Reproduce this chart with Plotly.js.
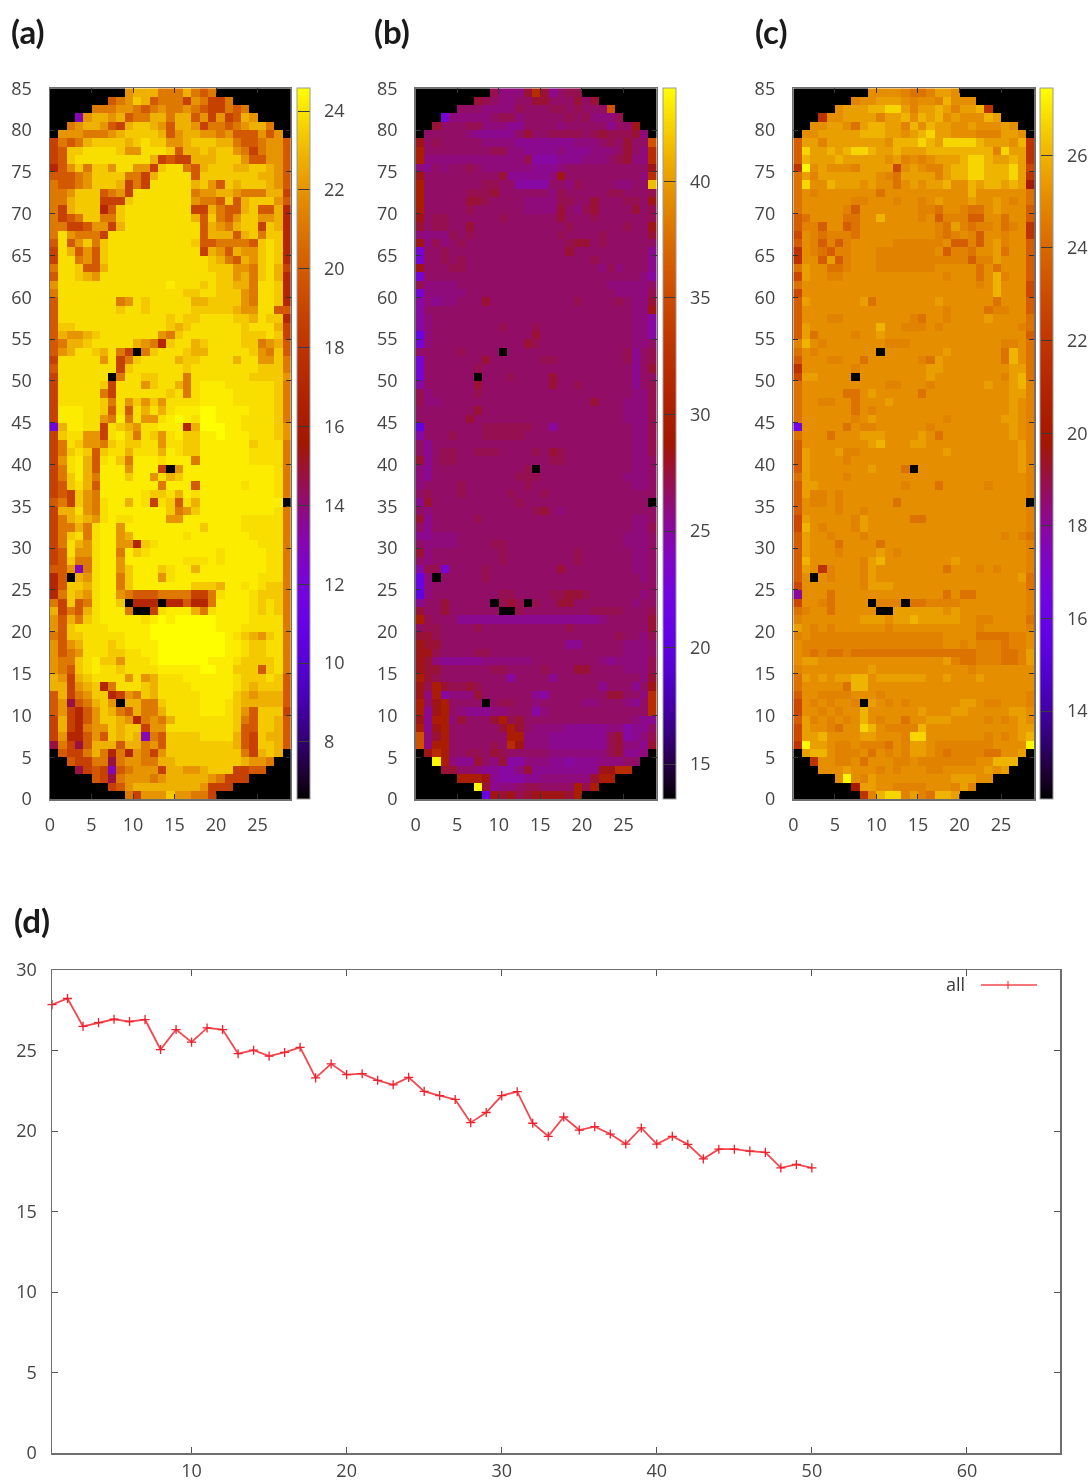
<!DOCTYPE html>
<html><head><meta charset="utf-8">
<script src="https://cdn.plot.ly/plotly-3.0.1.min.js"></script>
<style>html,body{margin:0;padding:0;background:#fff}#chart{width:1092px;height:1483px;filter:blur(0.6px)}</style>
</head><body><div id="chart"></div>
<script>
// Cell values: one character per cell, top row (y=84) first.
const levelsA = {'.':6.55,b:11.8,p:13,m:14.7,'0':17,'1':18.7,'2':19.9,'3':21.1,'4':22,'5':22.8,'6':23.4,'7':23.9,'8':24.2,'9':24.55};
const rowsA = [
"..... ....4 55533 35323 ..... ....",
"..... ..234 65233 31431 13... ....",
"..... 33344 32343 34321 1323. ....",
"...p4 55452 33553 55241 41254 ....",
"..345 54215 66542 55413 32345 53..",
".4443 33456 66652 45544 34222 424.",
"13235 66665 67664 45666 55322 3442",
"12667 77764 47776 25565 66431 3442",
"12677 77777 77512 11555 66642 2442",
"02463 66477 44167 73256 66556 6542",
"22234 66663 31577 77266 66666 5542",
"32234 66651 31777 77564 26566 6542",
"33466 62341 77777 77344 55433 3551",
"33566 61116 77777 77433 26256 6642",
"31566 60267 77777 77115 32256 2250",
"31236 63367 77777 77526 32466 4450",
"33112 44157 77777 77725 43566 1650",
"37433 31777 77777 77725 55256 3660",
"27246 36777 77777 77622 33332 6760",
"17524 26777 77777 77715 42544 6760",
"17734 26777 77777 77776 53254 6760",
"37762 25777 77777 77776 66443 6751",
"27765 47777 77777 77777 66453 6750",
"47777 77777 77778 77767 66553 7760",
"37777 77777 77777 76677 66643 7760",
"27777 77734 76777 77556 66643 7760",
"27777 77767 76777 77666 66544 7722",
"27777 77777 77776 76677 77665 7660",
"26677 77777 77776 56777 77767 7751",
"25445 67777 77743 67777 77766 6761",
"23556 77777 54306 77567 77766 3452",
"24577 65731 .3677 76557 77776 4362",
"17777 74713 67777 56677 77577 4463",
"27777 77716 77777 76777 77777 6663",
"17777 77.37 76677 73777 77776 6664",
"17777 76177 74677 53788 87777 7763",
"17777 73177 77776 73788 88777 7763",
"17777 76374 64647 77788 88777 7763",
"18887 76272 75757 88899 88887 7763",
"18887 74383 74478 98799 88877 7763",
"b5887 71765 47788 80599 98877 7764",
"16774 41786 37647 86688 98887 7764",
"13764 43676 67747 76688 88886 7773",
"13676 26775 77758 76688 88887 7773",
"14785 27863 88878 88388 88887 7773",
"13785 28884 8881. 48888 88888 8873",
"13685 38886 88475 68888 88888 8873",
"12675 28888 88838 88288 88878 8873",
"12164 38888 87667 58788 88888 8873",
"23164 37885 87176 27588 88888 888.",
"15574 37888 88886 34688 88888 8873",
"13565 47877 88884 48888 88877 7773",
"13353 78848 88888 88868 88877 7773",
"13673 78845 88888 87888 88887 7773",
"13754 78844 06788 88888 88888 7773",
"12744 78838 67888 88888 78888 8773",
"12633 78848 88888 87778 78888 8773",
"224p3 78846 88867 88588 88888 8773",
"02.54 78836 88847 88888 88888 7773",
"02665 78836 88888 88666 58878 7663",
"03654 78843 22233 33113 78887 6663",
"31623 7886. 000.0 02003 88887 6763",
"51325 78883 ..178 88537 88887 6763",
"42536 78888 87898 99999 88887 7773",
"42677 77888 88999 99999 88877 7773",
"32667 77778 88999 99999 98765 4673",
"42457 77678 88899 99999 98876 6773",
"42347 77667 78899 99999 98876 6773",
"43367 86647 77899 99998 88766 6673",
"43267 87767 77788 88899 88666 2673",
"54156 77774 74577 78888 88766 6762",
"55145 60377 76577 77888 88765 6662",
"25134 66014 36577 77788 88654 5552",
"24m23 564.5 53367 77788 87655 5552",
"24102 46532 53357 77788 87642 6661",
"15102 46654 03435 77777 77632 6652",
"15103 44656 61447 77777 77622 6652",
"14002 42656 5p326 66677 77521 6552",
"m31m2 55525 53426 66666 66521 6652",
".2113 53030 43146 66666 66631 565.",
"..211 33m34 43355 66666 66654 43..",
"...m1 21p23 44415 54456 66112 2...",
"..... 21m34 44345 55554 3111. ....",
"..... ..124 55555 55541 11... ....",
"..... ....3 14446 44331 ..... ...."
];
const levelsB = {'.':13.5,w:20.5,u:21.5,v:23,'0':24.9,'1':25.5,'2':26,'3':26.5,'4':27,'5':27.6,'6':28.3,'7':29.8,'8':32,'9':35.5,k:41.5,y:43.8};
const rowsB = [
"..... ....4 22258 51344 ..... ....",
"..... ..543 22335 53335 35... ....",
"..... 33322 22433 34434 3339. ....",
"...v2 22223 44233 33343 42224 ....",
"..533 34422 21133 33233 33313 36..",
".3333 32111 11353 34444 34544 452.",
"63433 33322 22111 11112 22343 5339",
"73333 33334 42211 11211 12223 5328",
"72222 22222 22240 00111 22234 5228",
"21323 34322 22221 11233 33333 3336",
"63333 33333 51111 12633 33333 3328",
"73333 33344 33000 03324 33332 233k",
"73333 34445 33333 32433 33344 3334",
"73333 35543 33322 22443 35333 4436",
"73333 34333 33322 22532 45333 3534",
"63443 33333 43333 33533 34333 3334",
"53443 35333 33333 33343 33333 4336",
"22224 34333 33333 33433 33433 3335",
"62423 43333 33333 33345 53433 3333",
"v3343 33333 33333 33353 33333 3331",
"v3343 43333 33333 33333 34333 3331",
"63334 43333 33333 33333 33242 3331",
"v3333 33333 33333 33333 33333 3320",
"42222 33333 33333 33333 33322 2223",
"v2222 23333 33333 33333 33332 2224",
"02122 33353 33333 33334 33334 3225",
"03333 33333 33333 33333 33333 3226",
"02333 33333 33333 33333 33333 3220",
"02333 33333 43334 33333 33333 3220",
"u2333 33333 33335 33333 33333 3220",
"v2333 33333 33354 33333 33333 3223",
"33333 43333 .3333 33333 33333 4134",
"v3333 33353 33333 44333 33333 4134",
"v3333 33433 33333 33333 33333 3135",
"v3333 33.33 34333 35333 33333 3133",
"03333 33533 33333 35334 33333 3134",
"42333 33433 33333 33333 33333 3224",
"42233 33333 33333 33333 35333 2224",
"33333 33533 33333 33333 33333 2224",
"33333 35333 33333 33333 33333 2224",
"w3333 33344 44443 30333 33333 3224",
"03334 33344 44433 33333 33333 3224",
"31333 33333 33333 33333 33333 3224",
"31344 33444 33334 35433 33333 3224",
"51344 33333 33333 34433 33333 3223",
"21333 33333 3334. 33333 33333 3223",
"21333 33333 33444 33333 33333 2223",
"23333 43333 33343 33333 33333 3223",
"34333 43333 34333 43333 33333 3333",
"15333 33333 33433 33333 33333 333.",
"32333 33333 33334 53233 33333 3333",
"51333 33433 33333 33333 33333 3223",
"31333 33333 33333 33333 33333 3224",
"11222 33333 33333 33333 33333 2223",
"32222 33334 43333 33333 33333 2223",
"52333 33333 43333 33334 33333 3223",
"32333 33333 43333 33334 33333 3223",
"044v3 33343 33333 33533 33333 3223",
"u2.33 33343 33333 33333 33333 3323",
"u2333 33333 33333 33333 33333 3333",
"w2333 33333 44333 34455 43333 3323",
"13353 3333. 454.4 33553 33333 3233",
"53353 33333 ..433 33333 34444 3334",
"74333 11111 11111 11111 11233 3335",
"34433 33433 33333 33343 33333 3335",
"55433 33333 33333 33333 33334 3324",
"65533 33333 33333 33311 33333 2223",
"66433 33443 33333 33333 33333 2223",
"65211 11122 22223 33333 33212 2224",
"65533 33334 43333 43335 53333 2224",
"75433 33333 30333 31333 33333 3325",
"64754 45433 33333 33333 33133 3136",
"62702 22533 33331 03333 33355 3328",
"73673 333.3 44332 33333 22333 2138",
"71673 21112 23330 23333 33333 3338",
"61772 53335 74533 33333 33333 3211",
"71673 33333 57532 22211 11122 0113",
"92573 33333 37722 21111 11145 0124",
"92773 33334 38622 21111 11145 2215",
".6873 34435 43333 32222 22245 112.",
"..y72 11532 50022 21101 11222 33..",
"...55 33211 00251 11111 11668 8...",
"..... 77761 00011 22222 2577. ....",
"..... ..y51 22344 33337 47... ....",
"..... ...u6 56456 66657 ..... ...."
];
const levelsC = {'.':12.1,b:16.5,p:18,'0':20,'1':21.8,'2':22.8,'3':23.6,'4':24.3,'5':24.8,'6':25.1,'7':25.5,'8':26,'9':26.7,y:27.35};
const rowsC = [
"..... ....6 66654 45776 ..... ....",
"..... ..566 77765 66586 66... ....",
"..... 67778 89975 77875 7781. ....",
"...16 67777 57786 87867 66687 ....",
"..667 76478 87758 68776 67666 76..",
".6677 77788 87767 89776 66555 776.",
"37757 77777 76888 98799 99877 7681",
"39778 78998 77877 78888 88885 9771",
"38777 87777 76756 56777 89987 7871",
"1y676 66577 77267 65578 89988 8972",
"47577 77777 65477 77578 89988 8971",
"49668 77767 66467 67786 68788 7870",
"46566 66666 46666 66666 68666 6664",
"46666 66556 66566 56766 67667 6564",
"46666 65366 66666 55466 54467 6663",
"34666 64466 86666 56355 53366 4663",
"35536 63466 66666 66547 54556 4561",
"26545 55466 66666 66545 65366 5661",
"36535 35666 66555 55563 35367 5663",
"16543 55666 55555 55635 54667 4663",
"16637 35666 55555 55555 53557 6663",
"47664 45666 55555 55666 66464 6663",
"27665 56666 66666 66656 66468 5663",
"46666 66666 66666 66666 66568 6662",
"26666 66666 66666 66666 66668 6662",
"37666 66674 66666 66766 66664 6663",
"36666 66666 66666 66656 66645 5663",
"36665 56666 66665 46656 66676 6664",
"37666 66666 86655 56566 66666 6654",
"37466 66566 76666 66666 66666 6663",
"58656 66666 65556 66666 66666 5564",
"46566 66666 .6666 66676 66666 4864",
"36665 56646 66666 54766 66666 4864",
"16666 66566 66666 67766 66666 6774",
"27766 66.66 66666 67666 66666 5784",
"46666 66666 65566 65666 66676 6785",
"46666 64467 66666 46666 66666 6775",
"46655 66466 67666 66666 66666 6765",
"46666 66465 66666 66666 66666 6765",
"46666 66567 66666 66656 66666 7765",
"b6666 64655 66666 65666 66666 6765",
"46664 66677 76666 76466 66666 6765",
"36666 66667 86667 76666 66666 6675",
"37666 75566 66666 66676 66666 6675",
"37666 65666 66666 66666 66666 6675",
"37666 66667 6664. 66666 66666 6675",
"47666 65666 66666 66666 66666 6665",
"37766 66666 66656 66466 66656 6665",
"37556 56666 66666 66666 66666 6665",
"36556 56666 66466 66666 66666 666.",
"36666 56656 66666 66666 66666 6665",
"27666 66576 66664 46666 66666 6665",
"28656 66576 66666 66666 66666 6665",
"37665 66656 66666 66666 66666 5654",
"37666 46666 46666 66666 66666 6665",
"37666 56666 76566 66666 66666 6665",
"38666 66657 86666 66667 66666 6665",
"37615 66657 66666 66646 66565 6665",
"36.65 66657 66666 66666 66666 6674",
"26666 66657 77666 66666 66666 6664",
"p6664 66666 66666 66646 44666 6665",
"26654 6666. 555.4 45555 66666 6665",
"45664 66666 ..777 77767 66666 6665",
"56666 66677 76778 77777 66556 6664",
"76565 66666 65666 66666 66566 6665",
"56555 55555 55555 55566 66444 4556",
"65555 55555 55555 55566 56555 4556",
"65454 45444 44444 44444 44555 4457",
"67766 66666 66666 66675 44555 4457",
"56666 66667 66666 66666 65666 6666",
"47676 77886 77777 76676 66766 6666",
"46666 64886 66666 66666 66666 6666",
"36655 55666 56666 66666 66666 6665",
"26565 665.7 65656 66666 77655 6665",
"26656 56686 66666 76667 76666 6776",
"37565 65686 56646 67776 66656 5676",
"27665 46698 65555 86666 66666 6677",
"27786 66677 66659 96666 66656 5678",
"1y776 55655 54657 76555 55556 666y",
".7886 55564 65657 76545 55544 667.",
"..166 55646 66556 55555 55668 88..",
"...66 67666 56566 65566 66676 7...",
"..... 6y657 66666 66667 7766. ....",
"..... ..077 66555 56665 75... ....",
"..... ...15 89957 54887 ..... ...."
];
const xTickVals = [0,5,10,15,20,25];
const yTickVals = [0,5,10,15,20,25,30,35,40,45,50,55,60,65,70,75,80,85];
const cbTicksA = [8,10,12,14,16,18,20,22,24];
const cbTicksB = [15,20,25,30,35,40];
const cbTicksC = [14,16,18,20,22,24,26];
const runIndex = [1,2,3,4,5,6,7,8,9,10,11,12,13,14,15,16,17,18,19,20,21,22,23,24,25,26,27,28,29,30,31,32,33,34,35,36,37,38,39,40,41,42,43,44,45,46,47,48,49,50];
const runValues = [27.85,28.23,26.5,26.73,26.94,26.8,26.92,25.06,26.3,25.52,26.4,26.3,24.8,25.02,24.65,24.88,25.2,23.3,24.17,23.5,23.56,23.15,22.87,23.33,22.46,22.2,21.96,20.52,21.15,22.2,22.44,20.48,19.67,20.87,20.06,20.27,19.81,19.19,20.19,19.19,19.67,19.17,18.27,18.87,18.87,18.75,18.67,17.71,17.92,17.71];

const W = 1092, H = 1483;
const fx = p => p / W, fy = p => 1 - p / H;
const FONT = '"Open Sans", sans-serif', TXT = '#444444', AXIS = '#6e6e6e';

// pm3d-like palette, tuned to the colours of the reference's colour bars
const palette = [];
for (let i = 0; i <= 40; i++) {
  const t = i / 40;
  const r = Math.pow(t, 0.65), g = Math.pow(t, 3.5), b = 0.9 * Math.max(0, Math.sin(2 * Math.PI * t));
  palette.push([t, `rgb(${Math.round(255*r)},${Math.round(255*g)},${Math.round(255*b)})`]);
}
const decode = (rows, levels) => rows.slice().reverse().map(s => s.replace(/ /g, '').split('').map(c => levels[c]));

const panels = [
  {rows: rowsA, levels: levelsA, zmin: 6.55, zmax: 24.58, ticks: cbTicksA, l: 50, r: 290.7, cb: 296.7},
  {rows: rowsB, levels: levelsB, zmin: 13.5, zmax: 44, ticks: cbTicksB, l: 415.7, r: 656.7, cb: 662.7},
  {rows: rowsC, levels: levelsC, zmin: 12.1, zmax: 27.45, ticks: cbTicksC, l: 793.3, r: 1034.3, cb: 1040}
];
const plotTop = 88.3, plotBot = 799;
const data = [], layout = {
  width: W, height: H, margin: {l: 0, r: 0, t: 0, b: 0, autoexpand: false}, paper_bgcolor: '#fff', plot_bgcolor: '#fff',
  showlegend: false, font: {family: FONT, size: 18, color: TXT}, annotations: [], shapes: []
};
panels.forEach((p, i) => {
  const n = i + 1, xa = 'x' + n, ya = 'y' + n, xk = 'xaxis' + n, yk = 'yaxis' + n;
  data.push({
    type: 'heatmap', z: decode(p.rows, p.levels), x0: 0.5, dx: 1, y0: 0.5, dy: 1, xaxis: xa, yaxis: ya,
    colorscale: palette, zmin: p.zmin, zmax: p.zmax, hoverinfo: 'skip',
    colorbar: {
      x: fx(p.cb), xanchor: 'left', xpad: 0, y: fy((plotTop + plotBot) / 2), yanchor: 'middle', ypad: 0,
      lenmode: 'pixels', len: plotBot - plotTop, thicknessmode: 'pixels', thickness: 12.5,
      outlinecolor: '#999', outlinewidth: 1, ticks: 'inside', ticklen: 12.5, tickcolor: '#3a3a3a', tickwidth: 1,
      tickmode: 'array', tickvals: p.ticks, ticktext: p.ticks.map(v => '\u00A0\u00A0' + v),
      tickfont: {family: FONT, size: 18, color: TXT}
    }
  });
  const base = {showgrid: false, zeroline: false, showline: true, linecolor: AXIS, linewidth: 1.5, mirror: 'ticks',
    ticks: 'inside', ticklen: 5, tickcolor: '#333', tickfont: {family: FONT, size: 18, color: TXT}, fixedrange: true, tickmode: 'array'};
  layout[xk] = Object.assign({}, base, {domain: [fx(p.l), fx(p.r)], range: [0, 29], anchor: ya, tickvals: xTickVals, ticklabelstandoff: 9});
  layout[yk] = Object.assign({}, base, {domain: [fy(plotBot), fy(plotTop)], range: [0, 85], anchor: xa, tickvals: yTickVals, ticklabelstandoff: 13});
});

data.push({type: 'scatter', mode: 'lines+markers', name: 'all', x: runIndex, y: runValues, xaxis: 'x4', yaxis: 'y4',
  line: {color: '#f2474f', width: 1.8},
  marker: {symbol: 'cross-thin', size: 6.5, line: {color: '#f0202c', width: 1.3}}, cliponaxis: false});
const base4 = {showgrid: false, zeroline: false, showline: true, linecolor: AXIS, linewidth: 1.5, mirror: 'ticks',
  ticks: 'inside', ticklen: 6, tickcolor: '#555', tickfont: {family: FONT, size: 18, color: TXT}, fixedrange: true};
layout.xaxis4 = Object.assign({}, base4, {domain: [fx(52), fx(1060)], range: [1, 66], anchor: 'y4', tickmode: 'array', tickvals: [10,20,30,40,50,60], ticklabelstandoff: 1});
layout.yaxis4 = Object.assign({}, base4, {domain: [fy(1453), fy(970)], range: [0, 30], anchor: 'x4', tickmode: 'array', tickvals: [0,5,10,15,20,25,30], ticklabelstandoff: 10});

[['(a)', 9, 31], ['(b)', 372, 31], ['(c)', 753, 31], ['(d)', 12, 920]].forEach(([t, x, y]) => {
  layout.annotations.push({text: '<b>' + t + '</b>', xref: 'paper', yref: 'paper', x: fx(x), y: fy(y), xanchor: 'left', yanchor: 'middle',
    showarrow: false, font: {family: 'Lato, sans-serif', size: 33, color: '#1a1a1a'}});
});
layout.annotations.push({text: 'all', xref: 'paper', yref: 'paper', x: fx(967), y: fy(984), xanchor: 'right', yanchor: 'middle', showarrow: false,
  font: {family: FONT, size: 18, color: '#3a3a3a'}});
layout.shapes.push(
  {type: 'line', xref: 'paper', yref: 'paper', x0: fx(981), x1: fx(1037), y0: fy(985), y1: fy(985), line: {color: '#f2474f', width: 1.5}},
  {type: 'line', xref: 'paper', yref: 'paper', x0: fx(1008), x1: fx(1008), y0: fy(981), y1: fy(989), line: {color: '#f0202c', width: 1}}
);
Plotly.newPlot('chart', data, layout, {displayModeBar: false, staticPlot: true});
</script></body></html>
